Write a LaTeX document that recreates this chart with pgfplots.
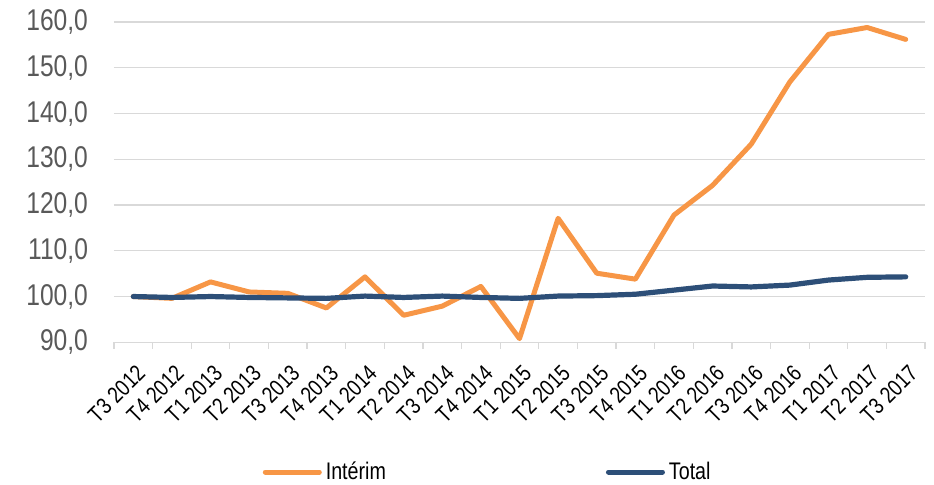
\documentclass[border=0pt]{standalone}
\usepackage{pgfplots}
\pgfplotsset{compat=1.18}
\usepackage{fontspec}
\setmainfont{Liberation Sans}[FakeStretch=0.82]

\definecolor{interim}{RGB}{247,150,70}
\definecolor{total}{HTML}{2D4F78}
\definecolor{gridgray}{HTML}{D9D9D9}
\definecolor{labgray}{HTML}{595959}

\begin{document}
\begin{tikzpicture}
% page = 934 x 485 px, 1 px = 0.5pt, axis box at origin
\useasboundingbox (-57pt,-71.35pt) rectangle (410pt,171.15pt);
\begin{axis}[
    scale only axis,
    width=405.5pt, height=160.15pt,
    xmin=-0.5, xmax=20.5,
    ymin=90, ymax=160,
    ytick={90,100,...,160},
    xtick={0,...,20},
    xticklabels={T3 2012,T4 2012,T1 2013,T2 2013,T3 2013,T4 2013,T1 2014,T2 2014,T3 2014,T4 2014,T1 2015,T2 2015,T3 2015,T4 2015,T1 2016,T2 2016,T3 2016,T4 2016,T1 2017,T2 2017,T3 2017},
    minor xtick={-0.5,0.5,...,20.5},
    axis x line*=bottom,
    axis y line*=left,
    x axis line style={-, draw=gridgray, line width=0.6pt},
    y axis line style={draw=none},
    major x tick style={draw=none},
    minor x tick style={draw=gridgray, line width=0.6pt},
    ytick style={draw=none},
    tick align=outside,
    major tick length=0pt,
    minor tick length=3.3pt,
    ymajorgrids=true,
    grid style={draw=gridgray, line width=0.6pt},
    clip=false,
    yticklabel style={
        font=\fontsize{15}{18}\selectfont, text=labgray, xshift=-9.5pt,
        /pgf/number format/.cd, fixed, fixed zerofill, precision=1, use comma,
        assume math mode=true},
    % shifts act in the rotated frame
    xticklabel style={
        font=\fontsize{11.5}{13}\selectfont, text=black, inner sep=0pt,
        rotate=45, anchor=north east, xshift=-6.7pt, yshift=-8.1pt},
    legend style={
        at={(rel axis cs:0.462,-0.405)}, anchor=center,
        draw=none, fill=none,
        font=\fontsize{12}{14}\selectfont,
        legend columns=2,
        /tikz/every even column/.append style={column sep=108pt}},
    legend image code/.code={
        \draw[#1, line width=2.5pt, line cap=round] (0pt,0pt) -- (27pt,0pt);},
]
\addplot[color=interim, line width=2.5pt, line cap=round, line join=round]
    coordinates {
    (0,100.0) (1,99.6) (2,103.2) (3,101.0) (4,100.7) (5,97.5) (6,104.3)
    (7,95.9) (8,97.9) (9,102.2) (10,90.8) (11,117.1) (12,105.1) (13,103.8)
    (14,117.8) (15,124.3) (16,133.3) (17,146.9) (18,157.3) (19,158.8) (20,156.2)
    };
\addlegendentry{Intérim}
\addplot[color=total, line width=2.6pt, line cap=round, line join=round]
    coordinates {
    (0,100.0) (1,99.8) (2,100.0) (3,99.8) (4,99.7) (5,99.6) (6,100.1)
    (7,99.8) (8,100.1) (9,99.8) (10,99.6) (11,100.1) (12,100.2) (13,100.5)
    (14,101.4) (15,102.3) (16,102.1) (17,102.5) (18,103.6) (19,104.2) (20,104.3)
    };
\addlegendentry{Total}
\end{axis}
\end{tikzpicture}
\end{document}
